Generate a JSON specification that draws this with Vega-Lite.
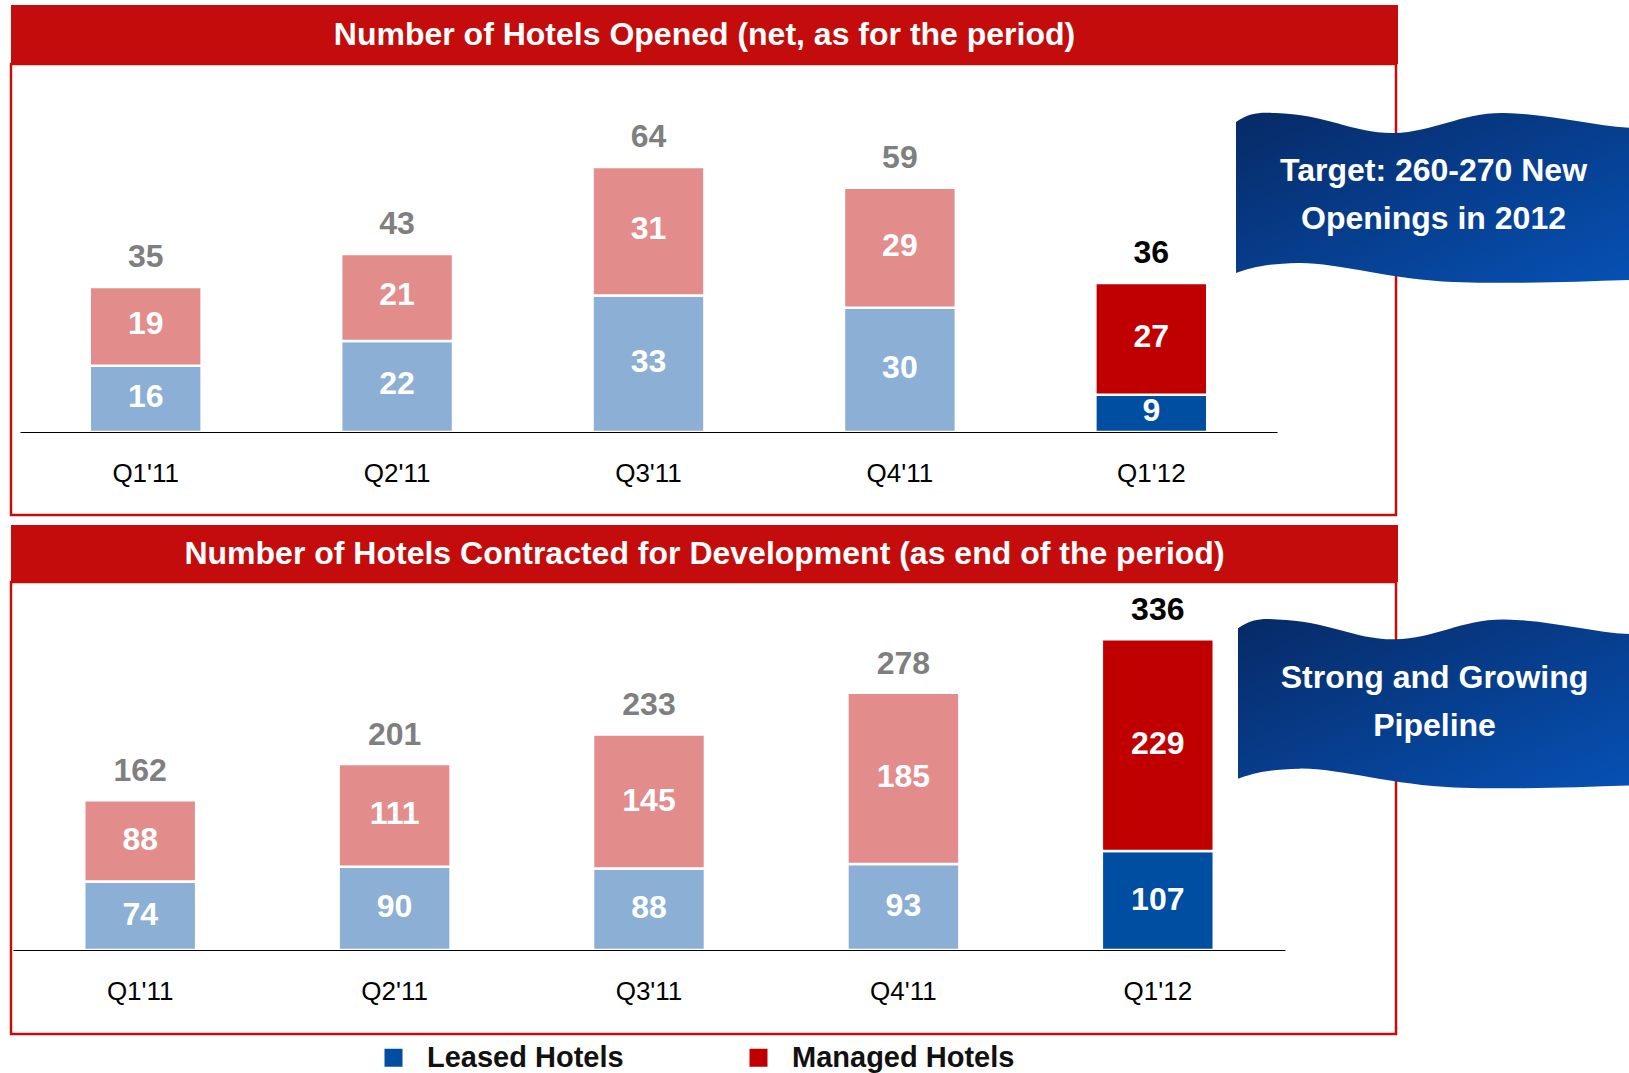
{
  "$schema": "https://vega.github.io/schema/vega-lite/v6.json",
  "padding": {"left": 9, "top": 5, "right": 0, "bottom": 0},
  "autosize": {"type": "pad"},
  "config": {
    "font": "Liberation Sans",
    "view": {"stroke": null},
    "axis": {"labelFont": "Liberation Sans"}
  },
  "datasets": {
    "opened": [
      {"q": "Q1'11", "type": "Leased Hotels", "n": 16, "period": "past"},
      {"q": "Q1'11", "type": "Managed Hotels", "n": 19, "period": "past"},
      {"q": "Q2'11", "type": "Leased Hotels", "n": 22, "period": "past"},
      {"q": "Q2'11", "type": "Managed Hotels", "n": 21, "period": "past"},
      {"q": "Q3'11", "type": "Leased Hotels", "n": 33, "period": "past"},
      {"q": "Q3'11", "type": "Managed Hotels", "n": 31, "period": "past"},
      {"q": "Q4'11", "type": "Leased Hotels", "n": 30, "period": "past"},
      {"q": "Q4'11", "type": "Managed Hotels", "n": 29, "period": "past"},
      {"q": "Q1'12", "type": "Leased Hotels", "n": 9, "period": "current"},
      {"q": "Q1'12", "type": "Managed Hotels", "n": 27, "period": "current"}
    ],
    "contracted": [
      {"q": "Q1'11", "type": "Leased Hotels", "n": 74, "period": "past"},
      {"q": "Q1'11", "type": "Managed Hotels", "n": 88, "period": "past"},
      {"q": "Q2'11", "type": "Leased Hotels", "n": 90, "period": "past"},
      {"q": "Q2'11", "type": "Managed Hotels", "n": 111, "period": "past"},
      {"q": "Q3'11", "type": "Leased Hotels", "n": 88, "period": "past"},
      {"q": "Q3'11", "type": "Managed Hotels", "n": 145, "period": "past"},
      {"q": "Q4'11", "type": "Leased Hotels", "n": 93, "period": "past"},
      {"q": "Q4'11", "type": "Managed Hotels", "n": 185, "period": "past"},
      {"q": "Q1'12", "type": "Leased Hotels", "n": 107, "period": "current"},
      {"q": "Q1'12", "type": "Managed Hotels", "n": 229, "period": "current"}
    ]
  },
  "bounds": "flush",
  "spacing": 0,
  "resolve": {"scale": {"color": "shared"}, "legend": {"color": "shared"}},
  "vconcat": [
    {
      "width": 1387,
      "height": 59,
      "view": {"fill": "#c40c0c", "stroke": null},
      "data": {"values": [{"t": "Number of Hotels Opened (net, as for the period)"}]},
      "mark": {"type": "text", "color": "white", "fontSize": 32, "fontWeight": "bold", "align": "center", "baseline": "middle"},
      "encoding": {
        "x": {"field": "t", "type": "nominal", "scale": {"type": "point"}, "axis": null},
        "y": {"field": "t", "type": "nominal", "scale": {"type": "point"}, "axis": null},
        "text": {"field": "t"}
      }
    },
    {
      "width": 1385,
      "height": 451,
      "view": {"stroke": "#c40c0c", "strokeWidth": 2.5},
      "resolve": {"scale": {"x": "independent", "y": "independent"}, "axis": {"x": "independent", "y": "independent"}},
      "layer": [
        {
          "data": {"name": "opened"},
          "transform": [
            {"stack": "n", "groupby": ["q"], "sort": [{"field": "type", "order": "ascending"}], "as": ["y0", "y1"]}
          ],
          "encoding": {
            "x": {
              "field": "q", "type": "nominal",
              "sort": ["Q1'11", "Q2'11", "Q3'11", "Q4'11", "Q1'12"],
              "scale": {"range": [9, 1266], "paddingInner": 0.555, "paddingOuter": 0.2775},
              "axis": {"title": null, "zindex": 1, "domainColor": "#000000", "domainWidth": 1, "ticks": false, "tickSize": 0, "labelFontSize": 26, "labelColor": "#000000", "labelPadding": 49, "labelBaseline": "alphabetic", "labelAngle": 0, "offset": -83, "grid": false}
            }
          },
          "layer": [
            {
              "mark": {"type": "bar", "stroke": "white", "strokeWidth": 2.5},
              "encoding": {
                "y": {"field": "y0", "type": "quantitative", "scale": {"domain": [0, 80], "range": [368, 36.8], "nice": false, "zero": true}, "axis": null},
                "y2": {"field": "y1"},
                "color": {
                  "field": "type", "type": "nominal",
                  "scale": {"domain": ["Leased Hotels", "Managed Hotels"], "range": ["#004ea2", "#c00000"]},
                  "legend": {"title": null, "orient": "none", "legendX": 368, "legendY": 1038, "direction": "horizontal", "symbolType": "square", "symbolSize": 324, "symbolStrokeWidth": 0, "symbolOpacity": 1, "labelFontSize": 29, "labelFontWeight": "bold", "labelColor": "#111111", "labelOffset": 19, "columnPadding": 120, "padding": 0, "labelLimit": 400}
                },
                "fillOpacity": {"field": "period", "type": "ordinal", "scale": {"domain": ["past", "current"], "range": [0.45, 1]}, "legend": null}
              }
            },
            {
              "transform": [
                {"fold": ["y0", "y1"], "as": ["edge", "yv"]},
                {"aggregate": [{"op": "mean", "field": "yv", "as": "mid"}], "groupby": ["q", "type", "n", "period"]}
              ],
              "mark": {"type": "text", "color": "white", "fontSize": 32, "fontWeight": "bold", "align": "center", "baseline": "middle", "dy": -2},
              "encoding": {
                "y": {"field": "mid", "type": "quantitative"},
                "text": {"field": "n", "type": "quantitative"}
              }
            },
            {
              "transform": [
                {"aggregate": [{"op": "sum", "field": "n", "as": "total"}], "groupby": ["q", "period"]}
              ],
              "mark": {"type": "text", "fontSize": 32, "fontWeight": "bold", "align": "center", "baseline": "alphabetic", "dy": -20},
              "encoding": {
                "y": {"field": "total", "type": "quantitative"},
                "text": {"field": "total", "type": "quantitative"},
                "color": {"condition": {"test": "datum.period === 'current'", "value": "#000000"}, "value": "#7f7f7f"}
              }
            }
          ]
        },
        {
          "data": {"values": [{"t": "Target: 260-270 New\nOpenings in 2012"}]},
          "encoding": {
            "x": {"field": "t", "type": "nominal", "scale": {"type": "point", "range": [1225, 1620]}, "axis": null},
            "y": {"field": "t", "type": "nominal", "scale": {"type": "point", "range": [0, 266]}, "axis": null}
          },
          "layer": [
            {
              "mark": {
                "type": "point", "filled": true, "opacity": 1, "strokeWidth": 0, "size": 156025,
                "shape": "M -1 -0.38 C -0.93 -0.43 -0.87 -0.43 -0.8 -0.425 C -0.55 -0.42 -0.4 -0.32 -0.2 -0.324 C 0 -0.328 0.15 -0.43 0.36 -0.425 C 0.6 -0.42 0.8 -0.36 1 -0.35 L 1 0.42 C 0.7 0.43 0.4 0.44 0.1 0.43 C -0.2 0.42 -0.5 0.33 -0.686 0.334 C -0.85 0.337 -0.93 0.36 -1 0.385 Z",
                "fill": {"gradient": "linear", "x1": 0, "y1": 0, "x2": 1, "y2": 1, "stops": [{"offset": 0, "color": "#072a66"}, {"offset": 1, "color": "#0651b4"}]}
              }
            },
            {
              "mark": {"type": "text", "color": "white", "fontSize": 32, "fontWeight": "bold", "align": "center", "baseline": "middle", "lineBreak": "\n", "lineHeight": 48, "dy": -26},
              "encoding": {"text": {"field": "t"}}
            }
          ]
        }
      ]
    },
    {
      "width": 10,
      "height": 10,
      "data": {"values": []},
      "mark": {"type": "point", "opacity": 0}
    },
    {
      "width": 1387,
      "height": 57,
      "view": {"fill": "#c40c0c", "stroke": null},
      "data": {"values": [{"t": "Number of Hotels Contracted for Development (as end of the period)"}]},
      "mark": {"type": "text", "color": "white", "fontSize": 32, "fontWeight": "bold", "align": "center", "baseline": "middle"},
      "encoding": {
        "x": {"field": "t", "type": "nominal", "scale": {"type": "point"}, "axis": null},
        "y": {"field": "t", "type": "nominal", "scale": {"type": "point"}, "axis": null},
        "text": {"field": "t"}
      }
    },
    {
      "width": 1385,
      "height": 452,
      "view": {"stroke": "#c40c0c", "strokeWidth": 2.5},
      "resolve": {"scale": {"x": "independent", "y": "independent"}, "axis": {"x": "independent", "y": "independent"}},
      "layer": [
        {
          "data": {"name": "contracted"},
          "transform": [
            {"stack": "n", "groupby": ["q"], "sort": [{"field": "type", "order": "ascending"}], "as": ["y0", "y1"]}
          ],
          "encoding": {
            "x": {
              "field": "q", "type": "nominal",
              "sort": ["Q1'11", "Q2'11", "Q3'11", "Q4'11", "Q1'12"],
              "scale": {"range": [2, 1274], "paddingInner": 0.56, "paddingOuter": 0.28},
              "axis": {"title": null, "zindex": 1, "domainColor": "#000000", "domainWidth": 1, "ticks": false, "tickSize": 0, "labelFontSize": 26, "labelColor": "#000000", "labelPadding": 49, "labelBaseline": "alphabetic", "labelAngle": 0, "offset": -84, "grid": false}
            }
          },
          "layer": [
            {
              "mark": {"type": "bar", "stroke": "white", "strokeWidth": 2.5},
              "encoding": {
                "y": {"field": "y0", "type": "quantitative", "scale": {"domain": [0, 380], "range": [368, 16.5], "nice": false, "zero": true}, "axis": null},
                "y2": {"field": "y1"},
                "color": {
                  "field": "type", "type": "nominal",
                  "scale": {"domain": ["Leased Hotels", "Managed Hotels"], "range": ["#004ea2", "#c00000"]},
                  "legend": {"title": null, "orient": "none", "legendX": 368, "legendY": 1038, "direction": "horizontal", "symbolType": "square", "symbolSize": 324, "symbolStrokeWidth": 0, "symbolOpacity": 1, "labelFontSize": 29, "labelFontWeight": "bold", "labelColor": "#111111", "labelOffset": 19, "columnPadding": 120, "padding": 0, "labelLimit": 400}
                },
                "fillOpacity": {"field": "period", "type": "ordinal", "scale": {"domain": ["past", "current"], "range": [0.45, 1]}, "legend": null}
              }
            },
            {
              "transform": [
                {"fold": ["y0", "y1"], "as": ["edge", "yv"]},
                {"aggregate": [{"op": "mean", "field": "yv", "as": "mid"}], "groupby": ["q", "type", "n", "period"]}
              ],
              "mark": {"type": "text", "color": "white", "fontSize": 32, "fontWeight": "bold", "align": "center", "baseline": "middle", "dy": -1},
              "encoding": {
                "y": {"field": "mid", "type": "quantitative"},
                "text": {"field": "n", "type": "quantitative"}
              }
            },
            {
              "transform": [
                {"aggregate": [{"op": "sum", "field": "n", "as": "total"}], "groupby": ["q", "period"]}
              ],
              "mark": {"type": "text", "fontSize": 32, "fontWeight": "bold", "align": "center", "baseline": "alphabetic", "dy": -19},
              "encoding": {
                "y": {"field": "total", "type": "quantitative"},
                "text": {"field": "total", "type": "quantitative"},
                "color": {"condition": {"test": "datum.period === 'current'", "value": "#000000"}, "value": "#7f7f7f"}
              }
            }
          ]
        },
        {
          "data": {"values": [{"t": "Strong and Growing\nPipeline"}]},
          "encoding": {
            "x": {"field": "t", "type": "nominal", "scale": {"type": "point", "range": [1227, 1620]}, "axis": null},
            "y": {"field": "t", "type": "nominal", "scale": {"type": "point", "range": [0, 242]}, "axis": null}
          },
          "layer": [
            {
              "mark": {
                "type": "point", "filled": true, "opacity": 1, "strokeWidth": 0, "size": 154449,
                "shape": "M -1 -0.38 C -0.93 -0.43 -0.87 -0.43 -0.8 -0.425 C -0.55 -0.42 -0.4 -0.32 -0.2 -0.324 C 0 -0.328 0.15 -0.43 0.36 -0.425 C 0.6 -0.42 0.8 -0.36 1 -0.35 L 1 0.42 C 0.7 0.43 0.4 0.44 0.1 0.43 C -0.2 0.42 -0.5 0.33 -0.686 0.334 C -0.85 0.337 -0.93 0.36 -1 0.385 Z",
                "fill": {"gradient": "linear", "x1": 0, "y1": 0, "x2": 1, "y2": 1, "stops": [{"offset": 0, "color": "#072a66"}, {"offset": 1, "color": "#0651b4"}]}
              }
            },
            {
              "mark": {"type": "text", "color": "white", "fontSize": 32, "fontWeight": "bold", "align": "center", "baseline": "middle", "lineBreak": "\n", "lineHeight": 48, "dy": -25},
              "encoding": {"text": {"field": "t"}}
            }
          ]
        }
      ]
    }
  ]
}
